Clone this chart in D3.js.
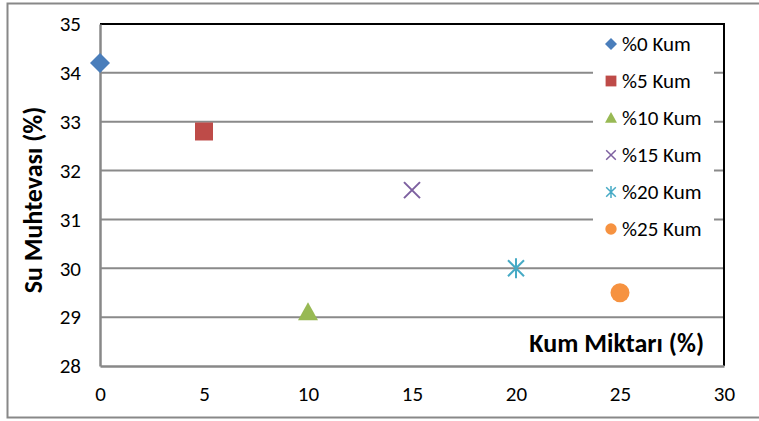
<!DOCTYPE html>
<html><head><meta charset="utf-8">
<script src="https://cdn.jsdelivr.net/npm/d3@7"></script>
<style>
html,body{margin:0;padding:0;background:#fff;}
svg{display:block;font-family:Carlito, Lato, "Open Sans", sans-serif;}
</style></head>
<body><svg id="c" width="759" height="421"></svg>
<script>
const seriesNames = ["%0 Kum","%5 Kum","%10 Kum","%15 Kum","%20 Kum","%25 Kum"];
const xValues = [0,5,10,15,20,25];
const yValues = [34.2,32.8,29.1,31.6,30.0,29.5];
const seriesColors = ["#4A7EBB","#BE4B48","#98B954","#7D60A0","#46AAC5","#F69240"];
const markerTypes = ["diamond","square","triangle","x","star","circle"];
const xTicks = [0,5,10,15,20,25,30];
const yTicks = [28,29,30,31,32,33,34,35];

const svg = d3.select("#c");
const W=759,H=421;
const pl=100, pr=724, pt=24, pb=366;
const x = d3.scaleLinear().domain([0,30]).range([pl,pr]);
const y = d3.scaleLinear().domain([28,35]).range([pb,pt]);
const FONT = "Carlito, Lato, sans-serif";

// outer border
svg.append("rect").attr("x",7.5).attr("y",3.5).attr("width",W).attr("height",414)
  .attr("fill","#fff").attr("stroke","#888").attr("stroke-width",2);

// gridlines
svg.append("g").selectAll("line").data(yTicks.filter(d=>d>28 && d<35)).join("line")
  .attr("x1",pl).attr("x2",pr).attr("y1",d=>y(d)).attr("y2",d=>y(d))
  .attr("stroke","#8a8a8a").attr("stroke-width",2);
// plot border top & right black
svg.append("path").attr("d",`M${pl},${pt}H${pr}V${pb}`).attr("fill","none").attr("stroke","#000").attr("stroke-width",2);

// axes
const yAxis = d3.axisLeft(y).tickValues(yTicks).tickFormat(d3.format("d")).tickSize(0).tickPadding(19);
const gy = svg.append("g").attr("transform",`translate(${pl},0)`).call(yAxis);
const xAxis = d3.axisBottom(x).tickValues(xTicks).tickFormat(d3.format("d")).tickSize(0).tickPadding(20);
const gx = svg.append("g").attr("transform",`translate(0,${pb})`).call(xAxis);
[gx,gy].forEach(g=>{
  g.attr("font-size",null).attr("font-family",null);
  g.select(".domain").attr("stroke","#888").attr("stroke-width",2.5);
  g.selectAll("text").style("font-size","21px").style("font-family",FONT).attr("fill","#000");
});

// axis titles
svg.append("text").attr("x",704).attr("y",352).attr("text-anchor","end")
  .style("font-size","26px").style("font-weight","bold").style("font-family",FONT).text("Kum Miktarı (%)");
svg.append("text").attr("transform","translate(42,200) rotate(-90)").attr("text-anchor","middle")
  .style("font-size","26px").style("font-weight","bold").style("font-family",FONT).text("Su Muhtevası (%)");

function marker(g, type, color, s){
  const h=s/2;
  if(type==="diamond"){
    g.append("path").attr("d",`M0,${-h}L${h},0L0,${h}L${-h},0Z`).attr("fill",color);
  } else if(type==="square"){
    g.append("rect").attr("x",-h*0.9).attr("y",-h*0.9).attr("width",s*0.9).attr("height",s*0.9).attr("fill",color);
  } else if(type==="triangle"){
    g.append("path").attr("d",`M0,${-h}L${h},${h*0.8}L${-h},${h*0.8}Z`).attr("fill",color);
  } else if(type==="x"){
    const a=h*0.8;
    g.append("path").attr("d",`M${-a},${-a}L${a},${a}M${-a},${a}L${a},${-a}`).attr("stroke",color).attr("stroke-width",Math.max(1.5,s/10));
  } else if(type==="star"){
    const a=h*0.8;
    g.append("path").attr("d",`M${-a},${-a}L${a},${a}M${-a},${a}L${a},${-a}M0,${-h}L0,${h}`).attr("stroke",color).attr("stroke-width",Math.max(1.5,s/10));
  } else if(type==="circle"){
    g.append("circle").attr("r",h*0.95).attr("fill",color);
  }
}

// points
seriesNames.forEach((n,i)=>{
  const g = svg.append("g").attr("transform",`translate(${x(xValues[i])},${y(yValues[i])})`);
  marker(g, markerTypes[i], seriesColors[i], 20);
});

// legend
const lg = svg.append("g");
lg.append("rect").attr("x",593).attr("y",30).attr("width",121).attr("height",214).attr("fill","#fff");
seriesNames.forEach((n,i)=>{
  const cy = 44 + i*37;
  const g = lg.append("g").attr("transform",`translate(611,${cy})`);
  marker(g, markerTypes[i], seriesColors[i], 12);
  lg.append("text").attr("x",622).attr("y",cy+7).style("font-size","21px").style("font-family",FONT).text(n);
});
</script></body></html>
